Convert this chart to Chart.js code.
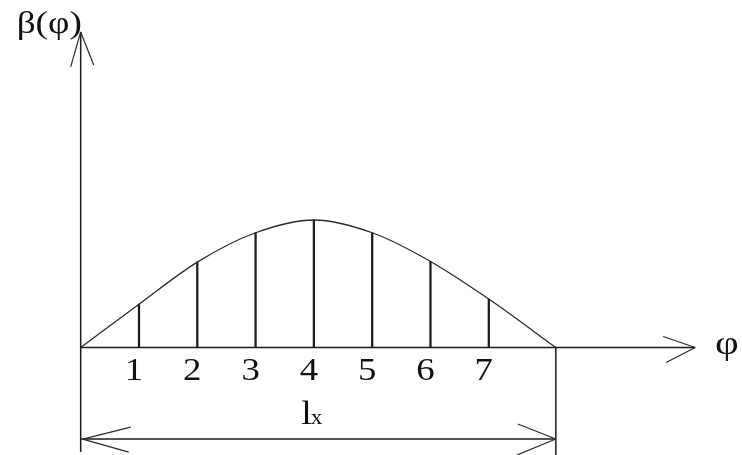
<!DOCTYPE html>
<html><head><meta charset="utf-8">
<script src="https://cdn.jsdelivr.net/npm/chart.js@4/dist/chart.umd.min.js"></script>
<style>html,body{margin:0;padding:0;background:#fff}#wrap{width:742px;height:455px;position:relative;background:#fff}</style>
</head><body><div id="wrap"><canvas id="c"></canvas></div>
<script>
// ---- data ----
const ordinateLabels = ['1', '2', '3', '4', '5', '6', '7'];
const ordinatePhi = [1, 2, 3, 4, 5, 6, 7];
const ordinateBeta = [0.34, 0.67, 0.90, 1.00, 0.90, 0.675, 0.38];
const curveStart = { phi: 0, beta: 0 };
const curveEnd = { phi: 8.15, beta: 0 };
const yAxisTitle = 'β(φ)';
const xAxisTitle = 'φ';
const spanMain = 'l';
const spanSub = 'x';

// ---- build datasets ----
const curvePoints = [{ x: curveStart.phi, y: curveStart.beta }]
  .concat(ordinatePhi.map((p, i) => ({ x: p, y: ordinateBeta[i] })))
  .concat([{ x: curveEnd.phi, y: curveEnd.beta }]);
const ordinatePoints = ordinatePhi.map((p, i) => ({ x: p, y: ordinateBeta[i] }));

const INK = '#1c1c1c';
const SERIF = '"Liberation Serif", "DejaVu Serif", serif';

function seg(ctx, x1, y1, x2, y2) { ctx.beginPath(); ctx.moveTo(x1, y1); ctx.lineTo(x2, y2); ctx.stroke(); }
// draw text with a horizontal stretch (the reference glyphs are a little wider than Liberation Serif)
function textW(ctx, t, x, y, sx, align) {
  ctx.save();
  ctx.translate(x, y); ctx.scale(sx, 1);
  ctx.textAlign = align; ctx.fillText(t, 0, 0);
  ctx.restore();
}

const decor = {
  id: 'decor',
  afterDatasetsDraw(chart) {
    const X = chart.scales.x, Y = chart.scales.y, ctx = chart.ctx;
    const px = v => X.getPixelForValue(v), py = v => Y.getPixelForValue(v);
    const x0 = px(0), xe = px(curveEnd.phi), y0 = py(0);
    ctx.save();
    ctx.strokeStyle = INK; ctx.lineWidth = 1.5; ctx.lineCap = 'butt';
    // y axis (continues down as extension line)
    const yTop = py(2.475), yBot = py(-0.82);
    seg(ctx, x0, yTop, x0, yBot);
    // x axis
    const xTip = px(10.54);
    seg(ctx, x0, y0, xTip, y0);
    // right extension line
    seg(ctx, xe, y0, xe, py(-0.85));
    // dimension line
    const yd = py(-0.718);
    seg(ctx, x0, yd, xe, yd);
    // arrowheads (thin)
    ctx.lineWidth = 1.2; ctx.strokeStyle = '#2a2a2a';
    seg(ctx, x0, yTop, x0 - 10, yTop + 35); seg(ctx, x0, yTop, x0 + 13, yTop + 33);
    seg(ctx, xTip, y0, xTip - 32, y0 - 11); seg(ctx, xTip, y0, xTip - 29, y0 + 15);
    seg(ctx, x0 + 2, yd, x0 + 50, yd - 12); seg(ctx, x0 + 2, yd, x0 + 48, yd + 13);
    seg(ctx, xe, yd, xe - 38, yd - 15); seg(ctx, xe, yd, xe - 39, yd + 16);
    // labels
    ctx.fillStyle = '#111';
    ctx.textBaseline = 'alphabetic';
    ctx.font = '32px ' + SERIF;
    ordinateLabels.forEach((t, i) => textW(ctx, t, px(ordinatePhi[i]) - 5, py(-0.255), 1.15, 'center'));
    // x axis title
    ctx.font = '33px ' + SERIF;
    textW(ctx, xAxisTitle, px(10.88), py(-0.05), 1.25, 'left');
    // y axis title
    ctx.font = '31px ' + SERIF;
    textW(ctx, yAxisTitle, x0 - 64, py(2.47), 1.2, 'left');
    // span label l_x
    const mid = (x0 + xe) / 2;
    ctx.font = '33px ' + SERIF;
    const lx = mid - 17;
    textW(ctx, spanMain, lx, py(-0.6), 1.15, 'left');
    const lw = ctx.measureText(spanMain).width * 1.15;
    ctx.font = '21px ' + SERIF;
    textW(ctx, spanSub, lx + lw - 1, py(-0.6), 1.1, 'left');
    ctx.restore();
  }
};

new Chart(document.getElementById('c'), {
  data: {
    datasets: [
      {
        type: 'line', data: curvePoints, borderColor: '#2a2a2a', borderWidth: 1.3,
        pointRadius: 0, cubicInterpolationMode: 'monotone', fill: false
      },
      {
        type: 'bar', data: ordinatePoints, backgroundColor: INK, borderWidth: 0,
        barThickness: 1.6
      }
    ]
  },
  options: {
    responsive: true, maintainAspectRatio: false, animation: false,
    layout: { padding: 0 },
    plugins: { legend: { display: false }, tooltip: { enabled: false } },
    scales: {
      x: { type: 'linear', min: -1.384, max: 11.343, display: false, offset: false },
      y: { type: 'linear', min: -0.843, max: 2.7255, display: false }
    }
  },
  plugins: [decor]
});
</script>
</body></html>
